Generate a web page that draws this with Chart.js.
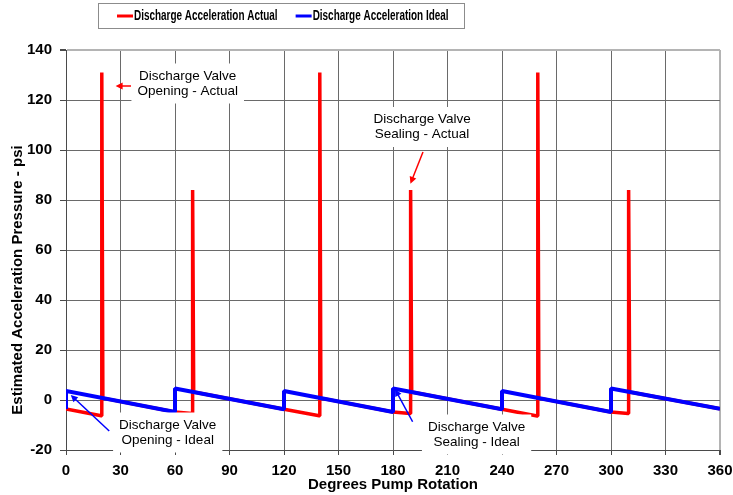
<!DOCTYPE html>
<html><head><meta charset="utf-8">
<script src="https://cdn.jsdelivr.net/npm/chart.js@4.4.1/dist/chart.umd.min.js"></script>
<style>html,body{margin:0;padding:0;background:#fff}#wrap{width:733px;height:495px}</style>
</head><body><div id="wrap"><canvas id="c" width="733" height="495"></canvas></div>
<script>
// ---- data ----
const seriesLabels = ['Discharge Acceleration Actual', 'Discharge Acceleration Ideal'];
const actualDeg = [0, 19.4, 19.7, 20.3, 60, 69.4, 69.7, 70.3, 120, 139.4, 139.7, 140.3, 180, 189.4, 189.7, 190.3, 240, 259.4, 259.7, 260.3, 300, 309.4, 309.7, 310.3, 360];
const actualPsi = [-3.6, -6.3, 131, 0.76, -4.8, -5.4, 84, 3.17, -3.7, -6.3, 131, 0.76, -4.8, -5.4, 84, 3.17, -3.7, -6.4, 131, 0.76, -4.8, -5.4, 84, 3.21, -3.5];
const idealDeg = [0, 0, 60, 60, 120, 120, 180, 180, 240, 240, 300, 300, 360];
const idealPsi = [-3.6, 3.6, -4.8, 4.6, -3.7, 3.6, -4.8, 4.6, -3.7, 3.6, -4.8, 4.6, -3.5];
const xTicks = [0, 30, 60, 90, 120, 150, 180, 210, 240, 270, 300, 330, 360];
const yTicks = [-20, 0, 20, 40, 60, 80, 100, 120, 140];
const xTitle = 'Degrees Pump Rotation';
const yTitle = 'Estimated Acceleration Pressure - psi';

// ---- annotations (positions in data units) ----
const notes = [
  {lines: ['Discharge Valve', 'Opening - Actual'], x: 67, y: 126.6, color: '#ff0000', from: [35.8, 125.6], to: [27.3, 125.6]},
  {lines: ['Discharge Valve', 'Sealing - Actual'], x: 196, y: 109.2, color: '#ff0000', from: [196.5, 99.2], to: [189.6, 86.5]},
  {lines: ['Discharge Valve', 'Opening - Ideal'], x: 56, y: -13, color: '#0000ff', from: [23.8, -12.4], to: [2.6, 2]},
  {lines: ['Discharge Valve', 'Sealing - Ideal'], x: 226, y: -13.8, color: '#0000ff', from: [190.8, -8.7], to: [181.1, 4.3]}
];

const FONT = "'Liberation Sans', Arial, sans-serif";
Chart.defaults.font.family = FONT;
Chart.defaults.color = '#000';

const zip = (xs, ys) => xs.map((x, i) => ({x: x, y: ys[i]}));

function arrow(ctx, x1, y1, x2, y2, color) {
  const ang = Math.atan2(y2 - y1, x2 - x1);
  const hl = 7, hw = 3.5;
  ctx.save();
  ctx.strokeStyle = color; ctx.fillStyle = color; ctx.lineWidth = 1.5;
  ctx.beginPath();
  ctx.moveTo(x1, y1);
  ctx.lineTo(x2 - Math.cos(ang) * hl * 0.8, y2 - Math.sin(ang) * hl * 0.8);
  ctx.stroke();
  ctx.beginPath();
  ctx.moveTo(x2, y2);
  ctx.lineTo(x2 - Math.cos(ang) * hl + Math.sin(ang) * hw, y2 - Math.sin(ang) * hl - Math.cos(ang) * hw);
  ctx.lineTo(x2 - Math.cos(ang) * hl - Math.sin(ang) * hw, y2 - Math.sin(ang) * hl + Math.cos(ang) * hw);
  ctx.closePath(); ctx.fill();
  ctx.restore();
}

const extras = {
  id: 'extras',
  beforeDraw(chart) {
    const ctx = chart.ctx;
    ctx.save(); ctx.fillStyle = '#fff'; ctx.fillRect(0, 0, chart.width, chart.height); ctx.restore();
  },
  afterDatasetsDraw(chart) {
    const ctx = chart.ctx, xs = chart.scales.x, ys = chart.scales.y;
    notes.forEach(n => {
      ctx.save();
      ctx.font = "13.5px " + FONT;
      const w = Math.max(...n.lines.map(l => ctx.measureText(l).width));
      const cx = xs.getPixelForValue(n.x), cy = ys.getPixelForValue(n.y);
      const lh = 15;
      const h = lh * n.lines.length;
      ctx.fillStyle = '#fff';
      ctx.fillRect(cx - w / 2 - 6, cy - h / 2 - 5, w + 12, h + 10);
      ctx.fillStyle = '#000'; ctx.textAlign = 'center'; ctx.textBaseline = 'middle';
      n.lines.forEach((l, i) => ctx.fillText(l, cx, cy - h / 2 + lh * (i + 0.5)));
      ctx.restore();
      arrow(ctx, xs.getPixelForValue(n.from[0]), ys.getPixelForValue(n.from[1]),
        xs.getPixelForValue(n.to[0]), ys.getPixelForValue(n.to[1]), n.color);
    });
  },
  afterDraw(chart) {
    const ctx = chart.ctx;
    // y axis title
    ctx.save();
    ctx.font = "bold 15px " + FONT;
    ctx.fillStyle = '#000'; ctx.textAlign = 'center'; ctx.textBaseline = 'middle';
    ctx.translate(17.5, 280); ctx.rotate(-Math.PI / 2);
    ctx.fillText(yTitle, 0, 0);
    ctx.restore();
    // legend
    ctx.save();
    ctx.strokeStyle = '#8c8c8c'; ctx.lineWidth = 1;
    ctx.strokeRect(98.5, 3.5, 366, 25);
    ctx.font = "bold 14px " + FONT;
    ctx.textBaseline = 'middle'; ctx.textAlign = 'left';
    const sx = 0.71;
    let x = 117;
    chart.data.datasets.forEach(ds => {
      ctx.strokeStyle = ds.borderColor; ctx.lineWidth = 3;
      ctx.beginPath(); ctx.moveTo(x, 16); ctx.lineTo(x + 16, 16); ctx.stroke();
      ctx.fillStyle = '#000';
      ctx.save();
      ctx.translate(x + 17, 16.5); ctx.scale(sx, 1);
      ctx.fillText(ds.label, 0, 0);
      ctx.restore();
      x += 17 + ctx.measureText(ds.label).width * sx + 18;
    });
    ctx.restore();
  }
};

const gridCol = '#6a6a6a', edgeCol = '#b4b4b4', axisCol = '#4a4a4a';

new Chart(document.getElementById('c'), {
  type: 'line',
  data: {
    datasets: [
      {label: seriesLabels[0], data: zip(actualDeg, actualPsi), borderColor: '#ff0000', borderWidth: 3.5, order: 2},
      {label: seriesLabels[1], data: zip(idealDeg, idealPsi), borderColor: '#0000ff', borderWidth: 4, order: 1}
    ]
  },
  options: {
    responsive: false, animation: false,
    elements: {point: {radius: 0}, line: {tension: 0, borderJoinStyle: 'bevel', fill: false}},
    layout: {padding: {top: 50, right: 13, left: 0, bottom: 0}},
    plugins: {legend: {display: false}, tooltip: {enabled: false}},
    scales: {
      x: {
        type: 'linear', min: 0, max: 360,
        afterBuildTicks: s => { s.ticks = xTicks.map(v => ({value: v})); },
        afterFit: s => { s.height = 45; s.paddingLeft = 0; s.paddingRight = 0; },
        ticks: {font: {size: 15, weight: 'bold'}, color: '#000', padding: 7, maxRotation: 0, autoSkip: false},
        grid: {
          color: c => c.tick && c.tick.value === 360 ? edgeCol : (c.tick && c.tick.value === 0 ? axisCol : gridCol),
          lineWidth: c => c.tick && c.tick.value === 360 ? 2 : 1,
          tickColor: axisCol, tickLength: 5, drawTicks: true
        },
        border: {color: axisCol, width: 1},
        title: {display: true, text: xTitle, font: {size: 15, weight: 'bold'}, color: '#000', padding: {top: 0, bottom: 1}}
      },
      y: {
        min: -20, max: 140,
        afterBuildTicks: s => { s.ticks = yTicks.map(v => ({value: v})); },
        afterFit: s => { s.width = 66; s.paddingTop = 0; s.paddingBottom = 0; },
        ticks: {font: {size: 15, weight: 'bold'}, color: '#000', padding: 8},
        grid: {
          color: c => c.tick && c.tick.value === 140 ? edgeCol : (c.tick && c.tick.value === -20 ? axisCol : gridCol),
          lineWidth: c => c.tick && c.tick.value === 140 ? 2 : 1,
          tickColor: axisCol, tickLength: 6
        },
        border: {color: axisCol, width: 1},
        title: {display: false}
      }
    }
  },
  plugins: [extras]
});
</script></body></html>
